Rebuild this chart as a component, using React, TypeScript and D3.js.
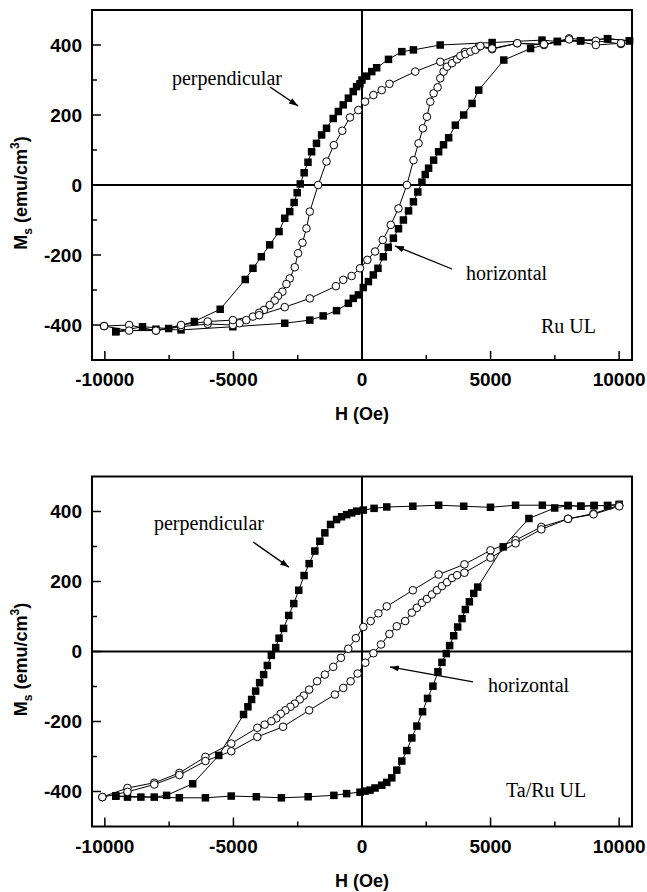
import React from "react";
import * as d3 from "d3";

type Pt = [number, number];

// ---- Ru UL (top panel) ----
const ruPerpDown: Pt[] = [
  [10400, 412], [9550, 418], [8500, 412], [7600, 410], [7000, 414], [5060, 407], [3040, 400],
  [2000, 386], [1550, 381], [1030, 359], [570, 335], [380, 324], [180, 311], [0, 300],
  [-80, 289], [-210, 281], [-340, 267], [-530, 248], [-730, 229], [-920, 210], [-1120, 190],
  [-1380, 162], [-1570, 143], [-1770, 119], [-1960, 95], [-2100, 65], [-2250, 35], [-2400, 3],
  [-2520, -22], [-2640, -50], [-2810, -76], [-3005, -95], [-3226, -133], [-3590, -171],
  [-3915, -205], [-4240, -238], [-4540, -270], [-5515, -355], [-6518, -390], [-7520, -410],
  [-8536, -405], [-9574, -419],
];
const ruPerpUp: Pt[] = [
  [-9574, -419], [-8013, -412], [-7037, -414], [-5023, -405], [-3005, -395], [-2030, -386],
  [-1510, -374], [-990, -359], [-530, -338], [-340, -324], [-140, -314], [50, -293], [250, -276],
  [440, -257], [620, -238], [830, -205], [1020, -178], [1220, -152], [1420, -125], [1610, -100],
  [1810, -74], [2000, -48], [2170, -20], [2330, 8], [2460, 30], [2590, 48], [2785, 71],
  [2980, 95], [3170, 115], [3370, 135], [3630, 171], [3955, 200], [4280, 233], [4540, 271],
  [5515, 357], [6557, 390], [7598, 410], [8500, 412], [9550, 418], [10400, 412],
];
const ruHorizDown: Pt[] = [
  [10070, 403], [9094, 412], [8053, 419], [7078, 400], [6037, 405], [5060, 388], [4540, 395],
  [4000, 380], [3044, 352], [2069, 324], [1066, 289], [768, 271], [443, 257], [117, 238],
  [-144, 214], [-468, 193], [-769, 155], [-1093, 114], [-1379, 67], [-1705, 0], [-2030, -76],
  [-2160, -124], [-2315, -165], [-2485, -195], [-2615, -235], [-2810, -267], [-2940, -283],
  [-3095, -305], [-3265, -317], [-3395, -330], [-3590, -343], [-3813, -357], [-4000, -365],
  [-4240, -376], [-4500, -386], [-4760, -395], [-5023, -400], [-6000, -397], [-7037, -405],
  [-8013, -416], [-9055, -400], [-10030, -403],
];
const ruHorizUp: Pt[] = [
  [-10030, -403], [-9055, -416], [-8013, -416], [-7037, -400], [-6000, -390], [-5023, -386],
  [-4000, -372], [-3005, -349], [-2030, -324], [-1015, -289], [-729, -271], [-403, -260],
  [-78, -238], [208, -214], [507, -190], [807, -157], [1119, -114], [1418, -67], [1745, 0],
  [2003, 71], [2200, 119], [2369, 162], [2525, 195], [2654, 238], [2785, 262], [2940, 279],
  [3044, 305], [3173, 324], [3306, 338], [3500, 348], [3696, 359], [3825, 369], [4020, 374],
  [4215, 381], [4410, 386], [4605, 397], [5060, 390], [6037, 405], [7078, 402], [8053, 416],
  [9094, 400], [10070, 405],
];

// ---- Ta/Ru UL (bottom panel) ----
const taPerpDown: Pt[] = [
  [10004, 420], [9550, 417], [9028, 417], [8509, 415], [8013, 417], [7013, 418], [5972, 418],
  [4996, 412], [3955, 415], [2980, 418], [1977, 415], [963, 413], [469, 409], [52, 404],
  [-208, 401], [-403, 396], [-599, 391], [-794, 385], [-989, 377], [-1223, 363], [-1444, 339],
  [-1639, 315], [-1834, 287], [-2056, 251], [-2252, 217], [-2459, 175], [-2654, 137],
  [-2849, 103], [-3050, 66], [-3226, 38], [-3356, 11], [-3525, -11], [-3681, -40], [-3825, -66],
  [-3981, -89], [-4137, -113], [-4293, -137], [-4437, -158], [-4606, -180], [-5570, -297],
  [-6584, -378], [-7599, -411], [-8079, -416], [-8599, -416], [-9120, -416], [-9575, -413],
];
const taPerpUp: Pt[] = [
  [-9575, -413], [-7103, -418], [-6089, -418], [-5086, -413], [-4110, -415], [-3135, -418],
  [-2094, -415], [-1093, -411], [-599, -406], [-78, -402], [117, -399], [312, -396], [507, -390],
  [768, -382], [963, -374], [1158, -361], [1353, -339], [1548, -313], [1743, -283], [1938, -247],
  [2134, -213], [2355, -172], [2550, -134], [2758, -99], [2953, -58], [3109, -31], [3278, -6],
  [3408, 17], [3565, 45], [3720, 70], [3890, 94], [4020, 120], [4176, 142], [4345, 166],
  [4500, 184], [5491, 299], [6491, 380], [7494, 410], [8013, 417], [8509, 415], [9028, 417],
  [9550, 417], [10004, 420],
];
const taHorizDown: Pt[] = [
  [10004, 418], [9003, 394], [8013, 379], [6973, 356], [5972, 318], [4996, 289], [3982, 249],
  [2980, 220], [1977, 175], [963, 129], [638, 109], [338, 87], [52, 70], [-240, 38], [-534, 8],
  [-820, -18], [-1119, -44], [-1444, -66], [-1745, -85], [-2056, -109], [-2264, -126],
  [-2420, -137], [-2615, -149], [-2783, -158], [-2979, -168], [-3161, -178], [-3330, -191],
  [-3525, -199], [-3786, -209], [-4071, -218], [-5086, -263], [-6089, -301], [-7103, -347],
  [-8079, -375], [-9120, -390], [-10097, -416],
];
const taHorizUp: Pt[] = [
  [-10097, -416], [-9120, -401], [-8079, -380], [-7103, -353], [-6089, -313], [-5086, -285],
  [-4071, -244], [-3070, -215], [-2056, -168], [-1054, -123], [-729, -104], [-443, -85],
  [-170, -63], [130, -32], [443, -5], [740, 20], [1066, 50], [1353, 72], [1678, 87], [1938, 111],
  [2134, 125], [2330, 139], [2525, 150], [2720, 163], [2915, 175], [3110, 187], [3306, 198],
  [3500, 210], [3696, 218], [3982, 225], [4996, 268], [5972, 309], [6973, 349], [8013, 379],
  [9003, 392], [10004, 415],
];

const xMajor = [-10000, -5000, 0, 5000, 10000];
const xMinor = [-7500, -2500, 2500, 7500];
const yMajor = [-400, -200, 0, 200, 400];
const yMinor = [-300, -100, 100, 300];
const xDomain: [number, number] = [-10500, 10500];
const yDomain: [number, number] = [-500, 500];

type Note = { text: string; at: Pt; arrowFrom?: Pt; arrowTo?: Pt };

const ruNotes: Note[] = [
  { text: "perpendicular", at: [-7389, 286] },
  { text: "", at: [0, 0], arrowFrom: [-3578, 280], arrowTo: [-2489, 226] },
  { text: "horizontal", at: [4045, -271] },
  { text: "", at: [0, 0], arrowFrom: [3500, -240], arrowTo: [1283, -174] },
  { text: "Ru UL", at: [6961, -423] },
];
const taNotes: Note[] = [
  { text: "perpendicular", at: [-8089, 347] },
  { text: "", at: [0, 0], arrowFrom: [-4239, 313], arrowTo: [-2839, 241] },
  { text: "horizontal", at: [4900, -116] },
  { text: "", at: [0, 0], arrowFrom: [4317, -87], arrowTo: [1089, -44] },
  { text: "Ta/Ru UL", at: [5600, -416] },
];

const SANS = "'Liberation Sans', Arial, Helvetica, sans-serif";
const SERIF = "'Liberation Serif', 'Times New Roman', serif";

function Panel(props: {
  top: number;
  bottom: number;
  perp: Pt[][];
  horiz: Pt[][];
  notes: Note[];
  id: string;
}) {
  const { top, bottom, perp, horiz, notes, id } = props;
  const left = 92;
  const right = 632;
  const x = d3.scaleLinear().domain(xDomain).range([left, right]);
  const y = d3.scaleLinear().domain(yDomain).range([bottom, top]);
  const line = d3
    .line<Pt>()
    .x((d) => x(d[0]))
    .y((d) => y(d[1]));
  const sq = 7.5;
  const mid = (top + bottom) / 2;
  return (
    <g>
      <defs>
        <marker
          id={`arr-${id}`}
          viewBox="0 0 10 10"
          refX="10"
          refY="5"
          markerWidth="9"
          markerHeight="9"
          markerUnits="userSpaceOnUse"
          orient="auto"
        >
          <path d="M0,1.5 L10,5 L0,8.5 Z" fill="#000" />
        </marker>
      </defs>
      {/* zero lines */}
      <line x1={left} x2={right} y1={y(0)} y2={y(0)} stroke="#000" strokeWidth={2} />
      <line x1={x(0)} x2={x(0)} y1={top} y2={bottom} stroke="#000" strokeWidth={2} />
      {/* series lines */}
      {perp.map((b, i) => (
        <path key={`pl${i}`} d={line(b) || ""} fill="none" stroke="#000" strokeWidth={1} />
      ))}
      {horiz.map((b, i) => (
        <path key={`hl${i}`} d={line(b) || ""} fill="none" stroke="#000" strokeWidth={1} />
      ))}
      {perp.map((b, i) =>
        b.map((d, j) => (
          <rect
            key={`ps${i}-${j}`}
            x={x(d[0]) - sq / 2}
            y={y(d[1]) - sq / 2}
            width={sq}
            height={sq}
            fill="#000"
          />
        ))
      )}
      {horiz.map((b, i) =>
        b.map((d, j) => (
          <circle
            key={`hc${i}-${j}`}
            cx={x(d[0])}
            cy={y(d[1])}
            r={3.8}
            fill="#fff"
            stroke="#000"
            strokeWidth={1}
          />
        ))
      )}
      {/* frame */}
      <rect x={left} y={top} width={right - left} height={bottom - top} fill="none" stroke="#000" strokeWidth={2} />
      {/* ticks */}
      {yMajor.map((v) => (
        <g key={`ym${v}`}>
          <line x1={left} x2={left + 9} y1={y(v)} y2={y(v)} stroke="#000" strokeWidth={1.5} />
          <text
            x={82}
            y={y(v)}
            dy="0.36em"
            textAnchor="end"
            fontFamily={SANS}
            fontWeight="bold"
            fontSize={19}
          >
            {String(v)}
          </text>
        </g>
      ))}
      {yMinor.map((v) => (
        <line key={`yn${v}`} x1={left} x2={left + 5} y1={y(v)} y2={y(v)} stroke="#000" strokeWidth={1.5} />
      ))}
      {xMajor.map((v) => (
        <g key={`xm${v}`}>
          <line x1={x(v)} x2={x(v)} y1={bottom} y2={bottom - 9} stroke="#000" strokeWidth={1.5} />
          <text
            x={x(v)}
            y={bottom + 26}
            textAnchor="middle"
            fontFamily={SANS}
            fontWeight="bold"
            fontSize={19}
          >
            {String(v)}
          </text>
        </g>
      ))}
      {xMinor.map((v) => (
        <line key={`xn${v}`} x1={x(v)} x2={x(v)} y1={bottom} y2={bottom - 5} stroke="#000" strokeWidth={1.5} />
      ))}
      {/* axis titles */}
      <text
        x={(left + right) / 2}
        y={bottom + 60}
        textAnchor="middle"
        fontFamily={SANS}
        fontWeight="bold"
        fontSize={18}
      >
        H (Oe)
      </text>
      <text
        transform={`translate(27,${mid + 8}) rotate(-90)`}
        textAnchor="middle"
        fontFamily={SANS}
        fontWeight="bold"
        fontSize={18}
      >
        M
        <tspan fontSize={12} dy={5}>
          s
        </tspan>
        <tspan dy={-5}> (emu/cm</tspan>
        <tspan fontSize={12} dy={-8}>
          3
        </tspan>
        <tspan dy={8}>)</tspan>
      </text>
      {/* annotations */}
      {notes.map((n, i) =>
        n.arrowFrom && n.arrowTo ? (
          <line
            key={`n${i}`}
            x1={x(n.arrowFrom[0])}
            y1={y(n.arrowFrom[1])}
            x2={x(n.arrowTo[0])}
            y2={y(n.arrowTo[1])}
            stroke="#000"
            strokeWidth={1.3}
            markerEnd={`url(#arr-${id})`}
          />
        ) : (
          <text key={`n${i}`} x={x(n.at[0])} y={y(n.at[1])} fontFamily={SERIF} fontSize={20}>
            {n.text}
          </text>
        )
      )}
    </g>
  );
}

export default function App() {
  return (
    <svg
      width={647}
      height={892}
      style={{ position: "absolute", left: 0, top: 0, background: "#fff" }}
    >
      <rect x={0} y={0} width={647} height={892} fill="#fff" />
      <Panel id="ru" top={10} bottom={360} perp={[ruPerpDown, ruPerpUp]} horiz={[ruHorizDown, ruHorizUp]} notes={ruNotes} />
      <Panel id="ta" top={476.5} bottom={826.5} perp={[taPerpDown, taPerpUp]} horiz={[taHorizDown, taHorizUp]} notes={taNotes} />
    </svg>
  );
}
